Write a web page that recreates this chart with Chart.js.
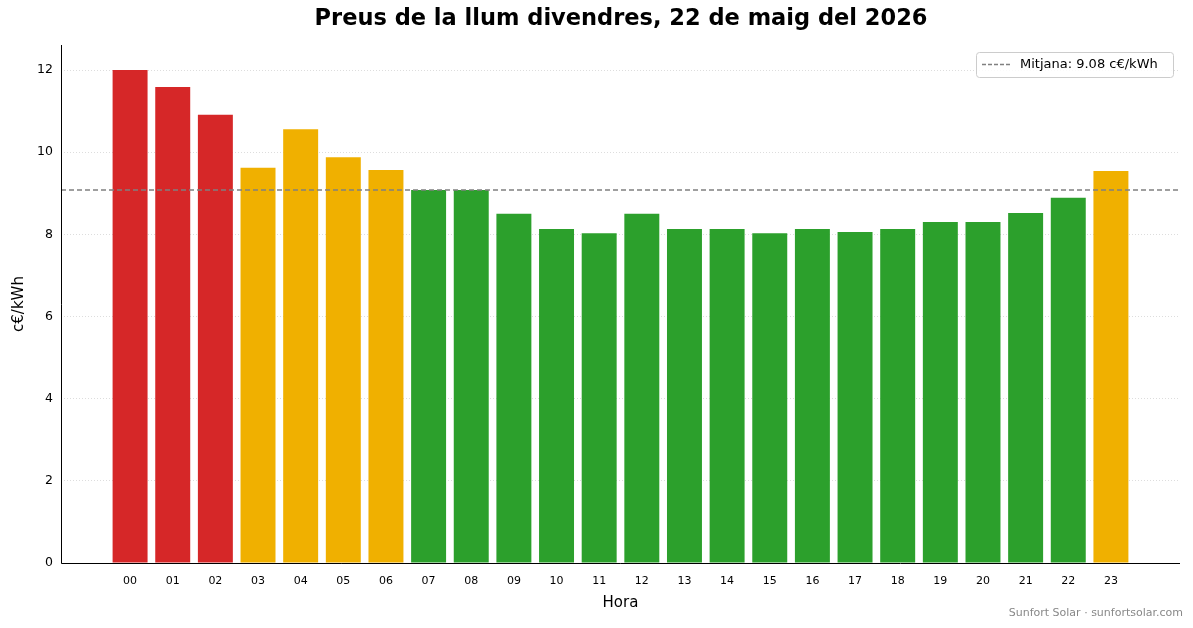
<!DOCTYPE html>
<html><head><meta charset="utf-8">
<script src="https://cdn.jsdelivr.net/npm/chart.js@4"></script>
<style>html,body{margin:0;padding:0;background:#fff}#w{width:1193px;height:628px}</style>
</head><body><div id="w"><canvas id="c"></canvas></div>
<script>
const hours = ["00","01","02","03","04","05","06","07","08","09","10","11","12","13","14","15","16","17","18","19","20","21","22","23"];
const prices = [12.0,11.59,10.91,9.62,10.56,9.88,9.57,9.08,9.08,8.50,8.13,8.03,8.50,8.13,8.13,8.03,8.13,8.06,8.13,8.30,8.30,8.52,8.89,9.54];
const levels = ["high","high","high","mid","mid","mid","mid","low","low","low","low","low","low","low","low","low","low","low","low","low","low","low","low","mid"];
const mean = 9.08;
const yTicks = [0,2,4,6,8,10,12];
const colorMap = {high:"#d62728", mid:"#f0b000", low:"#2ca02c"};
const XMIN=-1.62, XMAX=24.62;

const deco = {
  id:'deco',
  afterDraw(ch){
    const c=ch.ctx, a=ch.chartArea;
    c.save();
    c.fillStyle='#000';c.font='bold 22.5px "DejaVu Sans"';c.textAlign='center';c.textBaseline='middle';
    c.fillText('Preus de la llum divendres, 22 de maig del 2026',621,19);
    c.font='11px "DejaVu Sans"';c.fillStyle='#888';c.textAlign='right';
    c.fillText('Sunfort Solar · sunfortsolar.com',1183,613);
    c.strokeStyle='#000';c.lineWidth=1;c.beginPath();
    c.moveTo(a.left+0.5,a.top);c.lineTo(a.left+0.5,a.bottom+0.5);c.lineTo(a.right,a.bottom+0.5);c.stroke();
    const bx=976,by=52,bw=197,bh=25;
    c.fillStyle='rgba(255,255,255,0.85)';c.strokeStyle='#ccc';
    c.beginPath();c.roundRect(bx+0.5,by+0.5,bw,bh,3);c.fill();c.stroke();
    c.strokeStyle='#808080';c.lineWidth=1.5;c.setLineDash([4,2]);
    c.beginPath();c.moveTo(bx+6,by+12.5);c.lineTo(bx+34,by+12.5);c.stroke();c.setLineDash([]);
    c.fillStyle='#000';c.font='13px "DejaVu Sans"';c.textAlign='left';
    c.fillText('Mitjana: '+mean.toFixed(2)+' c€/kWh',bx+44,by+13);
    c.restore();
  }
};

new Chart(document.getElementById('c'),{
  data:{datasets:[
    {type:'bar',data:prices.map((v,i)=>({x:i,y:v})),backgroundColor:levels.map(l=>colorMap[l]),barPercentage:0.82,categoryPercentage:1,order:2},
    {type:'line',data:[{x:XMIN,y:mean},{x:XMAX,y:mean}],borderColor:'#808080',borderWidth:1.5,borderDash:[5,3],pointRadius:0,order:1}
  ]},
  options:{
    responsive:true,maintainAspectRatio:false,animation:false,
    layout:{padding:{top:45,right:13,left:6,bottom:16}},
    plugins:{legend:{display:false},tooltip:{enabled:false}},
    scales:{
      x:{type:'linear',min:XMIN,max:XMAX,offset:false,
        afterBuildTicks(s){s.ticks=hours.map((h,i)=>({value:i}));},
        afterFit(s){s.height=49;},
        grid:{display:false},border:{display:false},
        ticks:{callback:(v)=>hours[v],color:'#000',font:{size:11,family:'DejaVu Sans'},maxRotation:0,autoSkip:false,padding:4},
        title:{display:true,text:'Hora',color:'#000',font:{size:15,family:'DejaVu Sans'},padding:{top:4,bottom:0}}},
      y:{min:0,max:12.61,
        afterBuildTicks(s){s.ticks=yTicks.map(v=>({value:v}));},
        afterFit(s){s.width=55;},
        grid:{color:'#dddddd',borderDash:[1,2],drawTicks:false},border:{display:false,dash:[1,2]},
        ticks:{color:'#000',font:{size:12.5,family:'DejaVu Sans'},padding:8},
        title:{display:true,text:'c€/kWh',color:'#000',font:{size:15,family:'DejaVu Sans'},padding:{bottom:4}}}
    }
  },
  plugins:[deco]
});
</script></body></html>
